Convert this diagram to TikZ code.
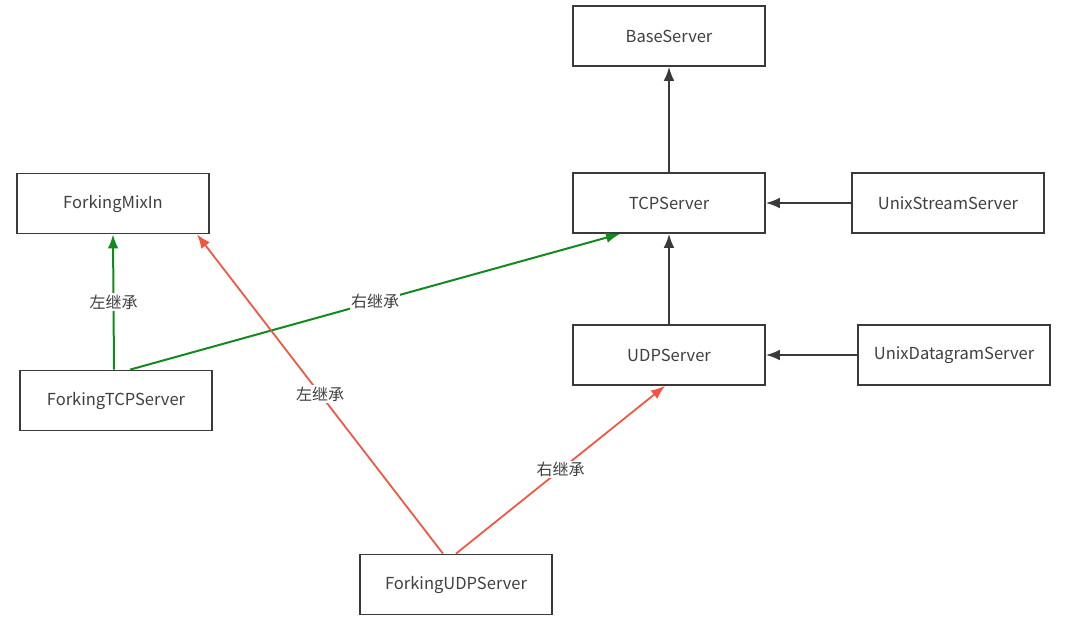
\documentclass[tikz,border=0pt]{standalone}
\usepackage{fontspec}
\setmainfont{Noto Sans CJK SC}
\usetikzlibrary{arrows.meta}
\definecolor{boxline}{HTML}{3A3A3A}
\definecolor{txt}{HTML}{404040}
\definecolor{gr}{HTML}{128A1E}
\definecolor{rd}{HTML}{F5533D}
\begin{document}
\begin{tikzpicture}[x=0.75pt,y=-0.75pt,
  cls/.style={draw=boxline,line width=1.3pt,minimum width=144pt,minimum height=45pt,inner sep=0pt,font=\fontsize{12.4}{14}\selectfont,text=txt,anchor=center},
  blk/.style={draw=boxline,line width=1.3pt,-{Latex[length=10.5pt,width=8pt]}},
  grn/.style={draw=gr,line width=1.5pt,-{Latex[length=10.5pt,width=8pt]}},
  red/.style={draw=rd,line width=1.3pt,-{Latex[length=10.5pt,width=8pt]}},
  lbl/.style={fill=white,inner sep=1pt,font=\fontsize{12}{14}\selectfont,text=txt}]
\useasboundingbox[fill=white] (0,0) rectangle (1066,640);
\node[cls] (base) at (669,36) {BaseServer};
\node[cls] (mix) at (113,203.5) {ForkingMixIn};
\node[cls] (tcp) at (669,203) {TCPServer};
\node[cls] (ustream) at (948,203) {UnixStreamServer};
\node[cls] (ftcp) at (116,400.5) {ForkingTCPServer};
\node[cls] (udp) at (669,355) {UDPServer};
\node[cls] (udgram) at (954,355) {UnixDatagramServer};
\node[cls] (fudp) at (456,584.5) {ForkingUDPServer};
\draw[blk] (tcp.north) -- (base.south);
\draw[blk] (ustream.west) -- (tcp.east);
\draw[blk] (udp.north) -- (tcp.south);
\draw[blk] (udgram.west) -- (udp.east);
\draw[grn] ([xshift=0.75pt]ftcp.north -| mix.south) -- (mix.south) node[lbl,pos=0.5] {左继承};
\draw[grn] ([xshift=10.5pt]ftcp.north) -- ([xshift=-36.75pt]tcp.south) node[lbl,pos=0.5] {右继承};
\draw[red] ([xshift=-9.75pt]fudp.north) -- ([xshift=63pt]mix.south) node[lbl,pos=0.5] {左继承};
\draw[red] (fudp.north) -- ([xshift=-3pt]udp.south) node[lbl,pos=0.5] {右继承};
\end{tikzpicture}
\end{document}
